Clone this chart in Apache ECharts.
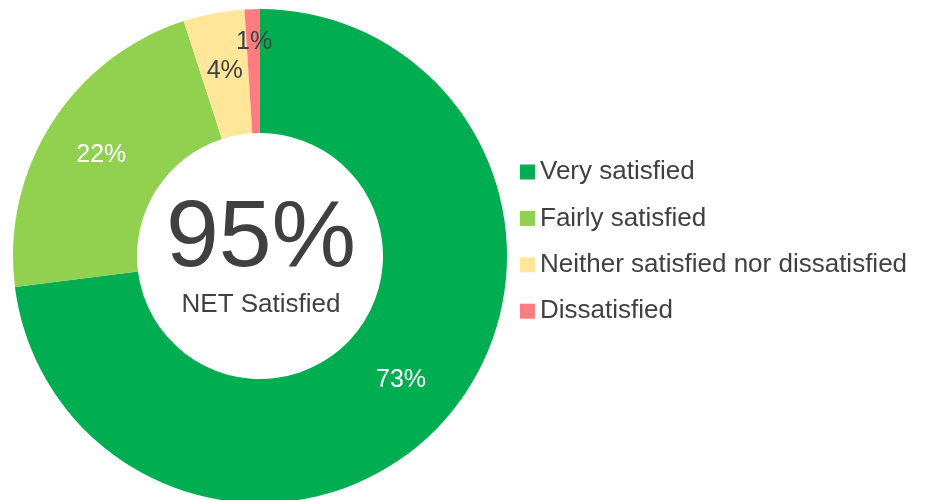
<!DOCTYPE html>
<html>
<head>
<meta charset="utf-8">
<style>
  html, body { margin: 0; padding: 0; background: #ffffff; }
  #chart { width: 929px; height: 500px; }
</style>
<script src="https://cdn.jsdelivr.net/npm/echarts@6/dist/echarts.min.js"></script>
</head>
<body>
<div id="chart"></div>
<script>
// Satisfaction shares (percent)
const categories = ['Very satisfied', 'Fairly satisfied', 'Neither satisfied nor dissatisfied', 'Dissatisfied'];
const shares = [73, 22, 4, 1];
const colors = ['#00AD50', '#92D050', '#FFE699', '#FF7C80'];
const labelColors = ['#ffffff', '#ffffff', '#404040', '#404040'];

// Net satisfied = very + fairly
const netSatisfied = shares[0] + shares[1];

const FONT = '"Liberation Sans", Arial, Helvetica, sans-serif';

const chart = echarts.init(document.getElementById('chart'), null, { renderer: 'canvas' });

const pieData = categories.map((name, i) => {
  const item = {
    name: name,
    value: shares[i],
    itemStyle: { color: colors[i] },
    label: { color: labelColors[i] }
  };
  // the thin slice carries its label further out, near the rim
  if (i === 3) item.label.offset = [0, -26];
  return item;
});

chart.setOption({
  animation: false,
  backgroundColor: '#ffffff',
  legend: {
    orient: 'vertical',
    left: 520,
    top: 159,
    padding: 0,
    itemWidth: 15,
    itemHeight: 15,
    itemGap: 20.4,
    icon: 'rect',
    selectedMode: false,
    data: categories,
    textStyle: { fontFamily: FONT, fontSize: 26, color: '#404040', lineHeight: 26 }
  },
  graphic: [
    {
      type: 'text',
      z: 100,
      style: {
        text: netSatisfied + '%',
        x: 261, y: 240,
        textAlign: 'center',
        textVerticalAlign: 'middle',
        fontFamily: FONT,
        fontSize: 95,
        fill: '#404040'
      }
    },
    {
      type: 'text',
      z: 100,
      style: {
        text: 'NET Satisfied',
        x: 261, y: 305,
        textAlign: 'center',
        textVerticalAlign: 'middle',
        fontFamily: FONT,
        fontSize: 26,
        fill: '#404040'
      }
    }
  ],
  series: [
    {
      type: 'pie',
      center: [260, 256],
      radius: [123, 247],
      startAngle: 90,
      clockwise: true,
      silent: true,
      avoidLabelOverlap: false,
      itemStyle: { borderWidth: 0 },
      label: {
        show: true,
        position: 'inside',
        formatter: '{c}%',
        fontFamily: FONT,
        fontSize: 25
      },
      labelLine: { show: false },
      data: pieData
    }
  ]
});
</script>
</body>
</html>
